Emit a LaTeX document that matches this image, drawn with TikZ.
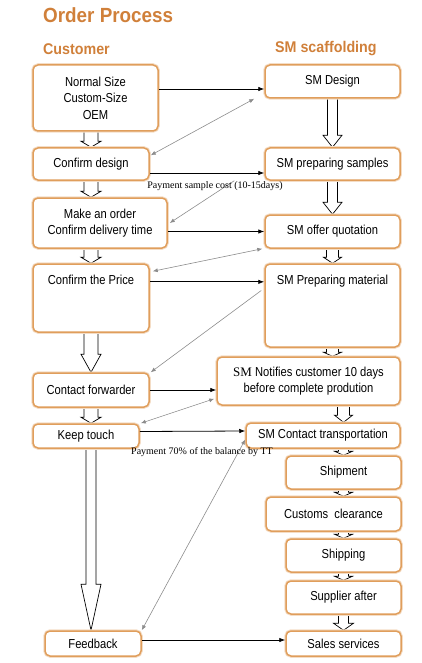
\documentclass[tikz,border=0pt]{standalone}
\usepackage{fontspec}
\setmainfont{Liberation Sans}[FakeStretch=0.86]
\newfontfamily\headfont{Liberation Sans}[FakeStretch=0.92]
\newfontfamily\notefont{Liberation Serif}
\usetikzlibrary{arrows.meta, calc, backgrounds}

\definecolor{titleorange}{RGB}{208,128,58}
\definecolor{boxorange}{RGB}{224,158,92}

% hollow block arrow: top point, target, shaft half width, head half width, head length
\newcommand{\hollowarrow}[5]{%
  \filldraw[bigarrow] let \p1=(#1), \p2=(#2) in
    (\x1-#3,\y1) -- (\x1-#3,\y2+#5) -- (\x1-#4,\y2+#5) -- (\x1,\y2)
    -- (\x1+#4,\y2+#5) -- (\x1+#3,\y2+#5) -- (\x1+#3,\y1);}

\begin{document}
\begin{tikzpicture}[
    x=1pt, y=-1pt,
    box/.style={
        rectangle,
        draw=boxorange,
        line width=1.5pt,
        fill=white,
        rounded corners=5pt,
        align=center,
        inner xsep=3pt,
        inner ysep=3pt,
        font=\fontsize{13}{16.5}\selectfont,
        preaction={draw=boxorange!35, line width=3.5pt}
    },
    topbox/.style={
        box,
        text height=15pt,
        inner ysep=5.5pt
    },
    flow/.style={
        -{Latex[length=6pt, width=4.5pt]},
        line width=0.8pt
    },
    link/.style={
        {Latex[length=5pt, width=4pt]}-{Latex[length=5pt, width=4pt]},
        draw=black!45,
        line width=0.6pt
    },
    linkone/.style={
        -{Latex[length=5pt, width=4pt]},
        draw=black!45,
        line width=0.6pt
    },
    bigarrow/.style={
        draw=black,
        fill=white,
        line width=0.7pt
    },
    note/.style={
        font=\notefont\fontsize{10}{12}\selectfont,
        inner sep=1pt
    },
    heading/.style={
        anchor=west,
        inner sep=0pt,
        text=titleorange
    }
]
    \useasboundingbox (0,0) rectangle (422,663);

    % Headings
    \node[heading, font=\headfont\bfseries\fontsize{20.5}{24}\selectfont] (title) at (43,15) {Order Process};
    \node[heading, font=\headfont\bfseries\fontsize{15.5}{18}\selectfont] (cust) at (43,49) {Customer};
    \node[heading, font=\headfont\bfseries\fontsize{15.5}{18}\selectfont] (supp) at (275,49) {SM scaffolding};

    % Customer side
    \node[box, minimum width=125, minimum height=66] (nsize) at (95.5,98) {Normal Size\\Custom-Size\\OEM};
    \node[box, minimum width=116, minimum height=32] (cdesign) at (91,164) {Confirm design};
    \node[box, minimum width=134, minimum height=50] (order) at (100,223) {Make an order\\Confirm delivery time};
    \node[topbox, minimum width=116, text depth=42pt] (price) at (91,298) {Confirm the Price};
    \node[box, minimum width=116, minimum height=34] (forwarder) at (91,390) {Contact forwarder};
    \node[box, minimum width=106, minimum height=24] (keep) at (86,436) {Keep touch};
    \node[box, minimum width=96, minimum height=25] (feedback) at (93,643.5) {Feedback};

    % Supplier side
    \node[box, minimum width=135, minimum height=33] (design) at (332.5,81.5) {SM Design};
    \node[box, minimum width=135, minimum height=32] (samples) at (332.5,164) {SM preparing samples};
    \node[box, minimum width=135, minimum height=33] (quote) at (332.5,231.5) {SM offer quotation};
    \node[topbox, minimum width=135, text depth=57pt] (material) at (332.5,305.5) {SM Preparing material};
    \node[box, minimum width=183, minimum height=48] (notify) at (308.5,381) {{\notefont SM} Notifies customer 10 days\\before complete prodution};
    \node[box, minimum width=154, minimum height=25] (transport) at (323,435.5) {SM Contact transportation};
    \node[box, minimum width=115, minimum height=33] (shipment) at (343.5,472.5) {Shipment};
    \node[box, minimum width=135, minimum height=34] (customs) at (333.5,514) {Customs\ \ clearance};
    \node[box, minimum width=115, minimum height=33] (shipping) at (343.5,555.5) {Shipping};
    \node[box, minimum width=115, minimum height=33] (supplier) at (343.5,597.5) {Supplier after};
    \node[box, minimum width=115, minimum height=25] (sales) at (343.5,643.5) {Sales services};

    % Hollow arrows down each column
    \begin{scope}[on background layer]
        \hollowarrow{cdesign.north |- nsize.south}{cdesign.north}{7pt}{10pt}{6pt}
        \hollowarrow{cdesign.south}{order.north}{7pt}{10pt}{6pt}
        \hollowarrow{price.north |- order.south}{price.north}{7pt}{10pt}{6pt}
        \hollowarrow{price.south}{forwarder.north}{7pt}{10pt}{18pt}
        \hollowarrow{forwarder.south}{keep.north}{7pt}{10pt}{6pt}
        \hollowarrow{forwarder.south |- keep.south}{feedback.north}{5pt}{10pt}{46pt}

        \hollowarrow{design.south}{samples.north}{5pt}{9.5pt}{12pt}
        \hollowarrow{samples.south}{quote.north}{5pt}{9.5pt}{12pt}
        \hollowarrow{quote.south}{material.north}{6pt}{9pt}{6pt}
        \hollowarrow{material.south}{notify.north}{6pt}{9pt}{4pt}
        \hollowarrow{shipment.north |- notify.south}{transport.north}{6pt}{9pt}{7pt}
        \hollowarrow{shipment.north |- transport.south}{shipment.north}{5pt}{9pt}{4pt}
        \hollowarrow{shipment.south}{customs.north}{5pt}{9pt}{4pt}
        \hollowarrow{shipping.north |- customs.south}{shipping.north}{5pt}{9pt}{4pt}
        \hollowarrow{shipping.south}{supplier.north}{5pt}{9pt}{4pt}
        \hollowarrow{supplier.south}{sales.north}{5pt}{10pt}{7pt}
    \end{scope}

    % Customer to supplier
    \draw[flow] ([yshift=9pt]nsize.east) -- ([yshift=-7.5pt]design.west);
    \draw[flow] ([yshift=-9pt]cdesign.east) -- ([yshift=-9pt]samples.west);
    \draw[flow] ([yshift=-8.5pt]order.east) -- (quote.west);
    \draw[flow] (price.east |- material.mid west) -- (material.mid west);
    \draw[flow] (forwarder.east) -- (forwarder.east -| notify.west);
    \draw[flow] ([yshift=4.5pt]keep.east) -- ([yshift=4.5pt]transport.west);
    \draw[flow] ([yshift=3.5pt]feedback.east) -- ([yshift=3.5pt]sales.west);

    % Supplier back to customer
    \draw[link] ([xshift=-10pt]design.south west) -- ([shift={(1pt,-8pt)}]cdesign.north east);
    \draw[linkone] ([xshift=-30pt]samples.south west) -- ([xshift=2pt]order.east);
    \draw[link] ([xshift=-2pt]quote.south west) -- ([shift={(3pt,-8pt)}]price.north east);
    \draw[linkone] ([shift={(-3pt,15pt)}]material.west) -- ([xshift=1pt]forwarder.north east);
    \draw[link] ([shift={(-2pt,7pt)}]notify.south west) -- ([xshift=1pt]keep.north east);
    \draw[link] ([yshift=-4pt]transport.west) -- (feedback.north east);

    % Payment notes
    \node[note] (pay1) at (215,186) {Payment sample cost (10-15days)};
    \node[note] (pay2) at (202,452) {Payment 70\% of the balance by TT};

\end{tikzpicture}
\end{document}
